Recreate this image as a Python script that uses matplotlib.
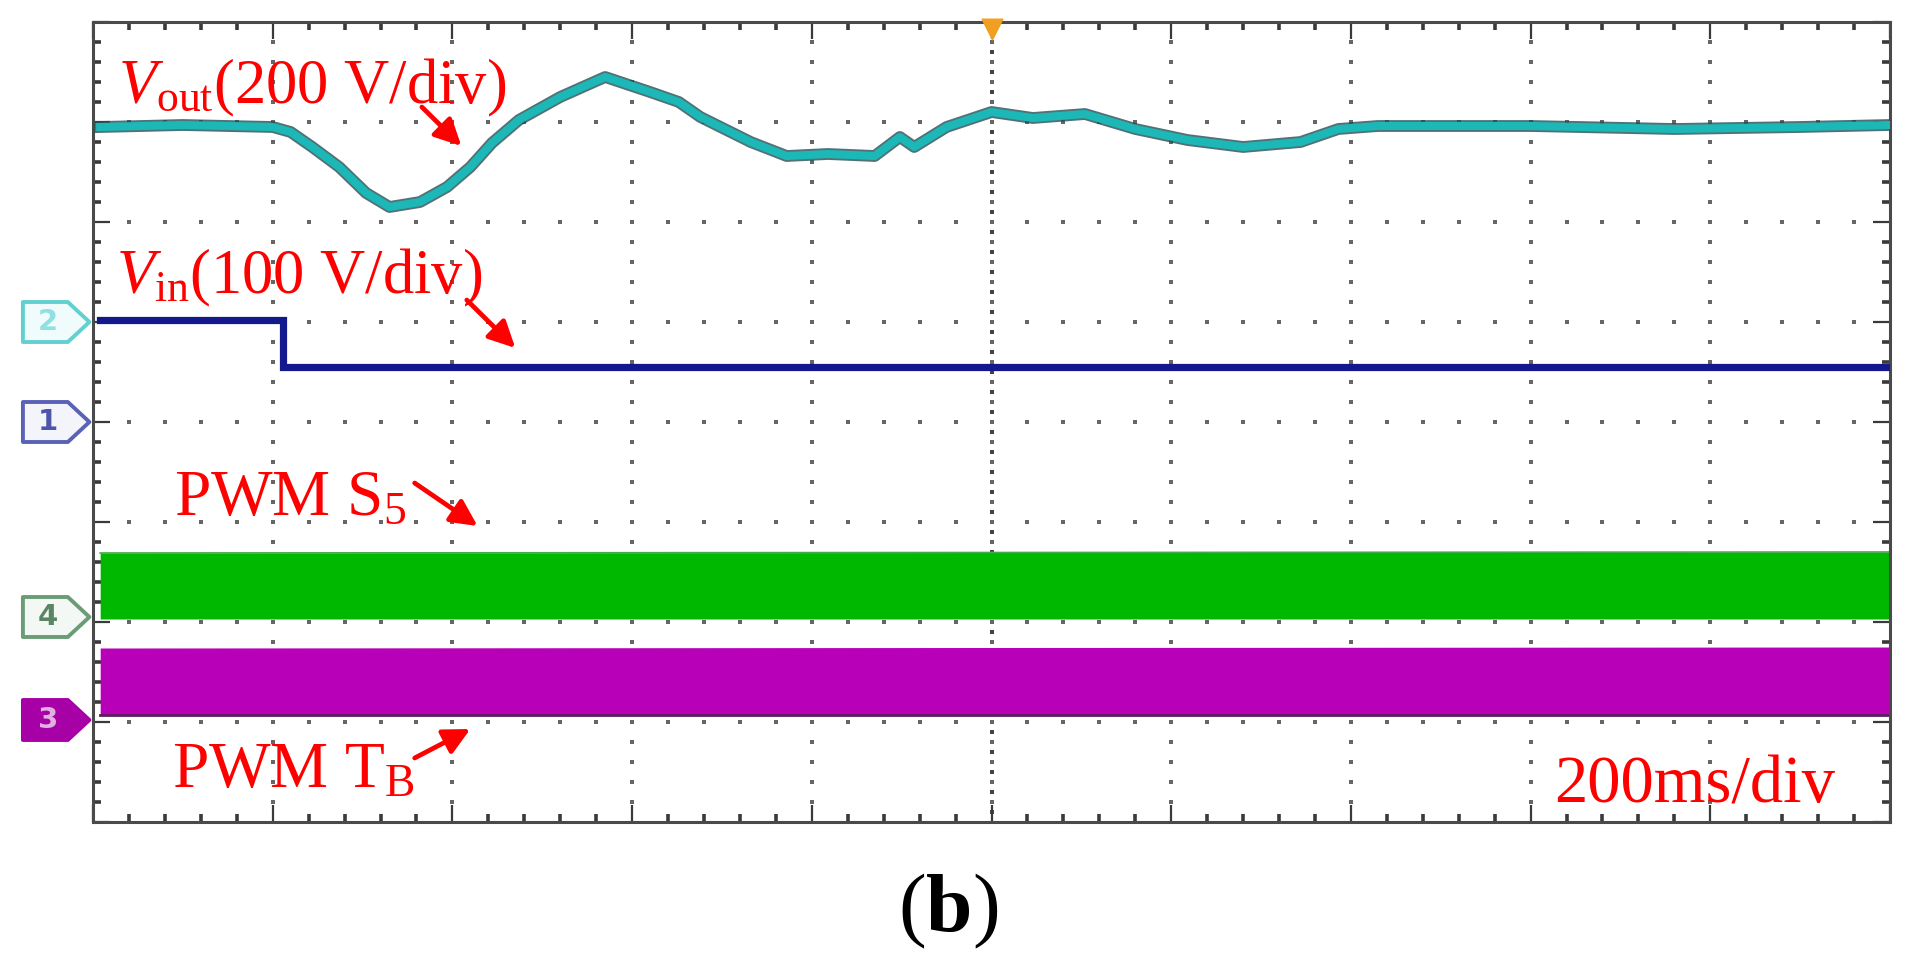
import numpy as np
import matplotlib
matplotlib.use("Agg")
import matplotlib.pyplot as plt
from matplotlib.patches import Polygon

plt.rcParams['mathtext.fontset'] = 'custom'
plt.rcParams['mathtext.rm'] = 'Liberation Serif'
plt.rcParams['mathtext.it'] = 'Liberation Serif:italic'
plt.rcParams['mathtext.bf'] = 'Liberation Serif:bold'
plt.rcParams['font.family'] = ['Liberation Serif', 'DejaVu Serif']

# ---- data (time in divisions, amplitude in divisions) ----
vout_t = [0.04, 0.5, 1.0, 1.1, 1.22, 1.37, 1.52, 1.65, 1.82, 1.97, 2.1, 2.22, 2.37,
          2.6, 2.85, 3.1, 3.26, 3.38, 3.66, 3.86, 4.09, 4.35, 4.49, 4.57, 4.75, 5.0,
          5.23, 5.52, 5.8, 6.09, 6.4, 6.72, 6.93, 7.15, 8.0, 8.8, 9.5, 10.0]
vout_v = [6.95, 6.97, 6.95, 6.9, 6.75, 6.55, 6.29, 6.15, 6.2, 6.35, 6.55, 6.79, 7.02,
          7.25, 7.45, 7.3, 7.2, 7.05, 6.8, 6.66, 6.68, 6.66, 6.85, 6.75, 6.95, 7.1,
          7.04, 7.08, 6.93, 6.82, 6.75, 6.8, 6.93, 6.96, 6.96, 6.93, 6.95, 6.97]
vin_t = [0.04, 1.06, 1.06, 10.0]
vin_v = [5.02, 5.02, 4.55, 4.55]
pwm_s5_t = [0.04, 10.0]
pwm_s5_low = [2.03, 2.03]
pwm_s5_high = [2.69, 2.70]
pwm_tb_t = [0.04, 10.0]
pwm_tb_low = [1.07, 1.07]
pwm_tb_high = [1.74, 1.75]
channel_labels = ['2', '1', '4', '3']
channel_levels = [5.0, 4.0, 2.05, 1.02]

W, H = 1908, 968
fig = plt.figure(figsize=(W / 100, H / 100), dpi=100)
ax = fig.add_axes([93 / W, 1 - 822 / H, (1890 - 93) / W, 800 / H])
ax.set_xlim(0, 10)
ax.set_ylim(0, 8)

# frame and ticks
for s in ax.spines.values():
    s.set_color('#4a4a4a')
    s.set_linewidth(2.2)
ax.set_xticks(np.arange(0, 11, 1))
ax.set_yticks(np.arange(0, 9, 1))
ax.set_xticks(np.arange(0, 10.01, 0.2), minor=True)
ax.set_yticks(np.arange(0, 8.01, 0.2), minor=True)
ax.tick_params(which='both', direction='in', top=True, right=True,
               labelbottom=False, labelleft=False, color='#3a3a3a')
ax.tick_params(which='major', length=12, width=1.6)
ax.tick_params(which='minor', length=6, width=2.6)

# dotted graticule
gx, gy = [], []
for k in range(1, 10):
    ys = np.arange(0.2, 8.0, 0.2)
    gx += [k] * len(ys); gy += list(ys)
for k in range(1, 8):
    xs = np.arange(0.2, 10.0, 0.2)
    gx += list(xs); gy += [k] * len(xs)
ax.scatter(gx, gy, s=8, marker='s', color='#666666', linewidths=0, zorder=1)
ys = np.arange(0.1, 8.0, 0.2)
ax.scatter([5] * len(ys), ys, s=12, marker='s', color='#444444', linewidths=0, zorder=1)

# PWM bands
ax.fill_between(pwm_s5_t, pwm_s5_low, pwm_s5_high, color='#00b800', lw=0, zorder=2)
ax.plot(pwm_s5_t, pwm_s5_high, color='#44aa44', lw=1.2, zorder=2)
ax.fill_between(pwm_tb_t, pwm_tb_low, pwm_tb_high, color='#b800b8', lw=0, zorder=2)
ax.plot(pwm_tb_t, pwm_tb_low, color='#5a1e5a', lw=2.0, zorder=2)

# Vin
ax.plot(vin_t, vin_v, color='#13198c', lw=5.2, solid_joinstyle='miter', zorder=3)

# Vout
ax.plot(vout_t, vout_v, color='#244f55', lw=8.5, alpha=0.8, zorder=3)
ax.plot(vout_t, vout_v, color='#1cb8b8', lw=5.8, zorder=4)

# trigger marker
ax.scatter([5], [7.93], marker='v', s=220, color='#f0a020', clip_on=False, zorder=5)

# channel markers
edge_cols = ['#63d0d0', '#5a62b5', '#6a9c76', '#a600a6']
face_cols = ['#f0fbfb', '#f4f4fb', '#f4f8f4', '#a600a6']
txt_cols = ['#8fe0e0', '#4e56a8', '#5a8664', '#e0b0e0']
for lab, lev, ec, fc, tc in zip(channel_labels, channel_levels, edge_cols, face_cols, txt_cols):
    x0, x1, x2 = -0.39, -0.14, -0.02
    h = 0.2
    poly = Polygon([[x0, lev - h], [x1, lev - h], [x2, lev], [x1, lev + h], [x0, lev + h]],
                   closed=True, facecolor=fc, edgecolor=ec, lw=2.8, joinstyle='round',
                   clip_on=False, zorder=5)
    ax.add_patch(poly)
    ax.text(-0.25, lev, lab, color=tc, fontsize=21, fontweight='bold', family='DejaVu Sans',
            ha='center', va='center', clip_on=False, zorder=6)

# labels
red = '#ff0000'
ax.text(0.14, 7.19, r'$V_{\mathrm{out}}$(200 V/div)', color=red, fontsize=45,
        ha='left', va='baseline', zorder=6)
ax.text(0.13, 5.29, r'$V_{\mathrm{in}}$(100 V/div)', color=red, fontsize=45,
        ha='left', va='baseline', zorder=6)
ax.text(0.45, 3.07, r'PWM S$_5$', color=red, fontsize=47, ha='left', va='baseline', zorder=6)
ax.text(0.44, 0.35, r'PWM T$_\mathrm{B}$', color=red, fontsize=47, ha='left', va='baseline', zorder=6)
ax.text(8.13, 0.20, '200ms/div', color=red, fontsize=48, ha='left', va='baseline', zorder=6)

arrow = dict(arrowstyle='-|>', color=red, lw=3.4, mutation_scale=40, shrinkA=0, shrinkB=0)
ax.annotate('', xy=(2.05, 6.76), xytext=(1.83, 7.15), arrowprops=arrow, zorder=6)
ax.annotate('', xy=(2.35, 4.74), xytext=(2.08, 5.22), arrowprops=arrow, zorder=6)
ax.annotate('', xy=(2.14, 2.96), xytext=(1.79, 3.39), arrowprops=arrow, zorder=6)
ax.annotate('', xy=(2.10, 0.93), xytext=(1.79, 0.64), arrowprops=arrow, zorder=6)

# caption
fig.text(0.497, 0.058, r'($\mathbf{b}$)', fontsize=60, ha='center', va='center',
         family='Liberation Serif')

fig.savefig('out.png', dpi=100)
